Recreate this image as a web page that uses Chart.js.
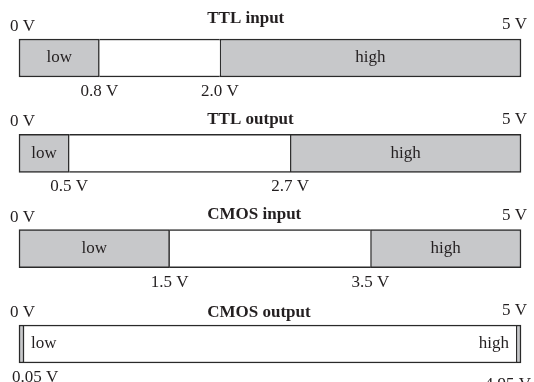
<!DOCTYPE html>
<html>
<head>
<meta charset="utf-8">
<script src="https://cdn.jsdelivr.net/npm/chart.js@4"></script>
<style>
html,body{margin:0;padding:0;background:#fff;}
canvas{display:block;}
</style>
</head>
<body>
<canvas id="c" width="534" height="382"></canvas>
<script>
// ---- data ----
const categories = ['TTL input', 'TTL output', 'CMOS input', 'CMOS output'];
const vMin = 0;
const vMax = 5;
const lowMax = [0.8, 0.5, 1.5, 0.05];
const highMin = [2.0, 2.7, 3.5, 4.95];
const lowTickLabels = ['0.8 V', '0.5 V', '1.5 V', '0.05 V'];
const highTickLabels = ['2.0 V', '2.7 V', '3.5 V', '4.95 V'];
const endLabels = ['0 V', '5 V'];
const regionNames = ['low', 'high'];

// ---- styles ----
const GRAY = 'rgb(199,200,202)';
const EDGE = '#2a2a2a';
const TEXT = '#231f20';
const BW = 1.5;
const FONT = '17px "Liberation Serif", "Times New Roman", serif';
const BOLD = 'bold 17px "Liberation Serif", "Times New Roman", serif';

const lowData = categories.map((c, i) => [vMin, lowMax[i]]);
const midData = categories.map((c, i) => [lowMax[i], highMin[i]]);
const highData = categories.map((c, i) => [highMin[i], vMax]);

const labelPlugin = {
  id: 'levelLabels',
  afterDatasetsDraw(chart) {
    const ctx = chart.ctx;
    const xs = chart.scales.x;
    const metaLow = chart.getDatasetMeta(0);
    const metaHigh = chart.getDatasetMeta(2);
    const titleDy = [-16, -10, -11, -8];
    const highLabDy = [19, 19, 19, 26];
    ctx.save();
    ctx.fillStyle = TEXT;
    categories.forEach((cat, i) => {
      const el = metaLow.data[i];
      const top = el.y - el.height / 2;
      const bottom = el.y + el.height / 2;
      const cy = el.y;
      const x0 = xs.getPixelForValue(vMin);
      const x5 = xs.getPixelForValue(vMax);
      const xl = xs.getPixelForValue(lowMax[i]);
      const xh = xs.getPixelForValue(highMin[i]);

      // title
      ctx.font = BOLD;
      ctx.textAlign = 'left';
      ctx.textBaseline = 'alphabetic';
      ctx.fillText(cat, xs.getPixelForValue(1.875), top + titleDy[i]);

      // end labels
      ctx.font = FONT;
      ctx.textAlign = 'left';
      ctx.fillText(endLabels[0], x0 - 9, top - 8);
      ctx.textAlign = 'right';
      ctx.fillText(endLabels[1], x5 + 6, top - 10);

      // threshold labels
      ctx.textAlign = 'center';
      const put = (txt, x, y) => {
        const w = ctx.measureText(txt).width;
        const cx = Math.min(Math.max(x, 12 + w / 2), 531 - w / 2);
        ctx.fillText(txt, cx, y);
      };
      put(lowTickLabels[i], xl, bottom + 19);
      put(highTickLabels[i], xh, bottom + highLabDy[i]);

      // region names
      ctx.textBaseline = 'middle';
      const wLow = ctx.measureText(regionNames[0]).width;
      if (xl - x0 > wLow + 8) {
        ctx.textAlign = 'center';
        ctx.fillText(regionNames[0], (x0 + xl) / 2, cy);
      } else {
        ctx.textAlign = 'left';
        ctx.fillText(regionNames[0], xl + 7, cy);
      }
      const wHigh = ctx.measureText(regionNames[1]).width;
      if (x5 - xh > wHigh + 8) {
        ctx.textAlign = 'center';
        ctx.fillText(regionNames[1], (xh + x5) / 2, cy);
      } else {
        ctx.textAlign = 'right';
        ctx.fillText(regionNames[1], xh - 7, cy);
      }
    });
    ctx.restore();
  }
};

new Chart(document.getElementById('c'), {
  type: 'bar',
  data: {
    labels: categories,
    datasets: [
      {
        label: 'low',
        data: lowData,
        backgroundColor: GRAY,
        borderColor: EDGE,
        borderWidth: BW,
        borderSkipped: false,
        grouped: false,
        clip: false,
        barThickness: 38
      },
      {
        label: 'undefined',
        data: midData,
        backgroundColor: '#ffffff',
        borderColor: EDGE,
        borderWidth: {top: BW, bottom: BW, left: 0, right: 0},
        borderSkipped: false,
        grouped: false,
        clip: false,
        barThickness: 38
      },
      {
        label: 'high',
        data: highData,
        backgroundColor: GRAY,
        borderColor: EDGE,
        borderWidth: BW,
        borderSkipped: false,
        grouped: false,
        clip: false,
        barThickness: 38
      }
    ]
  },
  options: {
    indexAxis: 'y',
    responsive: false,
    animation: false,
    events: [],
    layout: {padding: {left: 19, right: 13, top: 58, bottom: 38}},
    plugins: {legend: {display: false}, tooltip: {enabled: false}},
    scales: {
      x: {type: 'linear', min: vMin, max: vMax, display: false},
      y: {type: 'category', offset: false, display: false, grid: {display: false}}
    }
  },
  plugins: [labelPlugin]
});
</script>
</body>
</html>
